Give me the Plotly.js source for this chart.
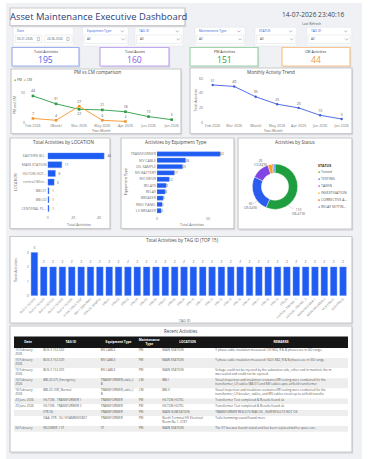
<!DOCTYPE html>
<html><head><meta charset="utf-8">
<script src="https://cdn.plot.ly/plotly-3.0.1.min.js"></script>
<style>html,body{margin:0;padding:0;background:#fff;overflow:hidden}#chart{width:370px;height:459px}</style>
</head><body><div id="chart"></div>
<script>
// ---------------- DATA ----------------
const pmcm_months = ["Feb 2026","(Blank)","Mar 2026","May 2026","Apr 2026","Jun 2026","Jan 2026"];
const pm_values = [44,31,22,21,18,10,5];
const cm_months = ["Feb 2026","(Blank)","Mar 2026","May 2026","Apr 2026"];
const cm_values = [7,4,27,4,2];
const trend_months = ["Feb 2026","Mar 2026","(Blank)","May 2026","Apr 2026","Jun 2026","Jan 2026"];
const trend_values = [51,49,35,25,20,10,5];
const locations = ["EASTERN BU...","MAIN STATION","HILTON HOT...","central (Mini...","BBI-01","BBI-02","CENTERAL PL..."];
const location_values = [44,11,6,5,1,1,1];
const equip_types = ["TRANSFORMER","MV CABLE","OIL SAMPLE","MV BATTERY","MV SWGR","RELAYS","RELAY","BREAKER","RMU PANEL","LV BREAKER"];
const equip_values = [62,28,25,17,12,9,8,6,5,4];
const status_labels = ["Tested","TESTING","TAKEN","INVESTIGATION","CORRECTIVE A...","RELAY SETTIN..."];
const status_values = [110,50,25,6,2,2];
const tag_ids = ["BUS-3 152-003","BUS-3 152-029","BUS-3 152-032","BUS-3 152-005","BUS-3 152-006","4-16K CABLE TEST","BBI-1 20KV RMU","ETR OIL SAMPLE","ETR-01","ETR-02","ETR-03","ETR-04","ETR-05","ETR-06","ETR-07","ETR-08","ETR-09","ETR-10","ETR-11","ETR-12","ETR-13","ETR-14","ETR-15","ETR-16","ETR-17","ETR-18","ETR-19","ETR-20","HILTON - TRANSF. 1","HILTON - TRANSF. 2","MAIN INCOMER-1","MAIN INCOMER-2","VCB-ETR-01","VCB-ETR-02"];
const tag_values = [3,2,2,2,2,2,2,2,2,2,2,2,2,2,2,2,2,2,2,2,2,2,2,2,2,2,2,2,2,2,2,2,2,2];
const kpi_labels = ["Total Activities","Total Assets","PM Activities","CM Activities"];
const kpi_values = [195,160,151,44];
const filter_labels = ["Equipment Type","TAG ID","Maintenance Type","STATUS","TAG ID"];
const date_from = "03-01-2026", date_to = "24-06-2026";
const table_headers = ["Date","TAG ID","Equipment Type","Maintenance<br>Type","LOCATION","REMARKS"];
const col_date = ["15 February<br>2026","15 February<br>2026","15 February<br>2026","16 February<br>2026","16 February<br>2026","23 June 2026","23 June 2026","","","04 February"];
const col_tag = ["BUS-3 152-032","BUS-3 152-029","BUS-3 152-005","BBI-20-07I_Emergency","BBI-20-16R_Normal","HILTON - TRANSFORMER 1","HILTON - TRANSFORMER 2","ETR-06","DAA- ETR- 16C KFIAMMS00867","INCOMER-1 VT"];
const col_equip = ["MV CABLE","MV CABLE","MV CABLE","TRANSFORMER,cable,C<br>B","TRANSFORMER,cable,C<br>B","TRANSFORMER","TRANSFORMER","TRANSFORMER","TRANSFORMER","VT"];
const col_maint = ["PM","PM","PM","CM","CM","PM","PM","PM","PM","PM"];
const col_loc = ["MAIN STATION","MAIN STATION","MAIN STATION","BBI-I","BBI-II","HILTON HOTEL","HILTON HOTEL","MAIN SUBSTATION","North Terminal HV Electrical<br>Room No 1- 2187","MAIN STATION"];
const col_remarks = [
 "Y-phase cable insulation measured 120 MΩ, R & B phases are in GO range.",
 "Y-phase cable insulation measured 164.5 MΩ, R & B phases are in GO range.",
 "Voltage could not be injected by the substation side, other end in manhole the m<br>was sealed and could not be opened.",
 "Visual inspection and insulation resistance(IR) testing were conducted for the<br>transformer, LV cables (BB-01) and MV cables upto airfield transformer",
 "Visual inspection and insulation resistance(IR) testing were conducted for the<br>transformer, LV breaker, cables, and MV cables circuit up to airfield transfor",
 "Transformer Test completed & Results found ok",
 "Transformer Test completed & Results found ok",
 "TRANSFORMER RESULTS WAS OK , NGR RESULTS NOT OK",
 "Trafo humming sound found more",
 "The VT has was found rusted and has been replaced with a spare one."
];

// ---------------- HELPERS ----------------
const W=370,H=459;
const X=x=>x/W, Y=y=>1-y/H;
const FONT='"Open Sans", "Segoe UI", sans-serif';
const BLUE='#1f5cf2';
const GREEN='#2a9d45', ORANGE='#f5952a';
const shapes=[], ann=[];
function rect(x0,y0,x1,y1,fill,line,lw){shapes.push({type:'rect',xref:'paper',yref:'paper',x0:X(x0),x1:X(x1),y0:Y(y1),y1:Y(y0),fillcolor:fill,line:{color:line||'rgba(0,0,0,0)',width:lw||0},layer:'below'});}
function panel(x0,y0,x1,y1,border){rect(x0+1,y0+1.5,x1+1.2,y1+1.8,'rgba(0,0,0,0.10)');rect(x0,y0,x1,y1,'#ffffff',border||'#c9c9c9',1.2);}
function txt(t,x,y,size,color,o){o=o||{};ann.push({text:t,x:X(x),y:Y(y),xref:'paper',yref:'paper',showarrow:false,borderpad:0,
  font:{family:FONT,size:size,color:color},xanchor:o.xa||'center',yanchor:o.ya||'middle',textangle:o.rot||0,align:o.align||'center'});}
function chevron(x,y){shapes.push({type:'path',xref:'paper',yref:'paper',path:`M ${X(x-1.6)} ${Y(y-0.8)} L ${X(x)} ${Y(y+0.8)} L ${X(x+1.6)} ${Y(y-0.8)}`,line:{color:'#777',width:0.5}});}

// background
rect(6,3,362,459,'#eff1f5');
// header title box
panel(10,8,185,25.5,'#c9c9c9');
txt('Asset Maintenance Executive Dashboard',98,16.8,9.4,'#2c3d78');
txt('14-07-2026 23:40:16',312.5,15,6.6,'#454545');
txt('Last Refresh',311,23,3.3,'#555');

// filters
rect(13.3,27.3,73.3,46,'#ffffff','#e1e3e8',0.5);
txt('Date',15.5,30.7,3.2,'#3b5bd9',{xa:'left'});
rect(15.3,35,42,42.7,'#ffffff','#d5d7dc',0.4);
rect(44.7,35,72,42.7,'#ffffff','#d5d7dc',0.4);
txt(date_from,16.3,38.9,3,'#555',{xa:'left'});
txt(date_to,45.7,38.9,3,'#555',{xa:'left'});
rect(37.3,37.3,39.6,40.6,'#ffffff','#777',0.4);
rect(66.8,37.3,69.1,40.6,'#ffffff','#777',0.4);
const filter_boxes=[[82.7,128.3],[135,183.3],[195,245],[255,296.7],[306.7,351.7]];
filter_boxes.forEach((b,i)=>{
  rect(b[0],27.3,b[1],46,'#ffffff','#e1e3e8',0.5);
  txt(filter_labels[i],b[0]+3,31.5,3.2,'#3b5bd9',{xa:'left'});
  chevron(b[1]-6,31.3);
  rect(b[0]+1.5,35,b[1]-1.5,43.5,'#ffffff','#d5d7dc',0.4);
  txt('All',b[0]+3.5,39.3,3.2,'#555',{xa:'left'});
  chevron(b[1]-5,39.3);
});

// KPI cards
const kpi_boxes=[[12,79],[100,169],[190,258],[282,350]];
const kpi_border=['#9fb0ef','#c1a8ef','#9fd6a9','#f7c58e'];
const kpi_color=['#4664e6','#8b57e6','#2f9a48','#f2993a'];
kpi_boxes.forEach((b,i)=>{
  panel(b[0],47.5,b[1],66,kpi_border[i]);
  txt(kpi_labels[i],(b[0]+b[1])/2,51.8,3.6,'#333');
  txt(String(kpi_values[i]),(b[0]+b[1])/2,59.8,8.6,kpi_color[i]);
});

// panels
panel(11,69,181,133.5);
panel(190,68,352,133.5);
panel(10,138,110,228.5);
panel(121,138,234,228.5);
panel(238,138,352,229);
panel(10,236.5,352,323);
panel(10,326,352,452);

// panel titles
txt('PM vs CM comparison',98,72.4,4.6,'#444');
txt('Monthly Activity Trend',271,71.7,4.6,'#444');
txt('Total Activities by LOCATION',63,142.3,4.6,'#444');
txt('Activities by Equipment Type',176,142.3,4.6,'#444');
txt('Activities by Status',295,142.3,4.6,'#444');
txt('Total Activities by TAG ID (TOP 15)',182,240,4.6,'#444');
txt('Recent Activities',180,330.8,4.4,'#444');

// axis titles
txt('PM and CM',15,105,3.4,'#666',{rot:-90});
txt('Year-Month',101,130.7,3.4,'#666');
txt('Total Activities',194.5,100,3.4,'#666',{rot:-90});
txt('Year-Month',273,130.7,3.4,'#666');
txt('LOCATION',15,182,3.6,'#666',{rot:-90});
txt('Total Activities',79,224.3,3.6,'#666');
txt('Equipment Type',125.3,182,3.6,'#666',{rot:-90});
txt('Total Activities',192,224.3,3.6,'#666');
txt('Total Activities',15,270,3.6,'#666',{rot:-90});
txt('TAG ID',185,320.7,3.6,'#666');

// PM/CM legend
txt('<span style="color:'+GREEN+'">●</span> PM  <span style="color:'+ORANGE+'">●</span> CM',13.3,79.3,3.4,'#555',{xa:'left'});

// status legend
const status_colors=['#1f9e3f','#2a5cf0','#8145e6','#f5a21c','#e4431d','#3aa0ee'];
txt('<b>STATUS</b>',316.5,165.7,3.6,'#333',{xa:'left'});
status_labels.forEach((s,i)=>txt('<span style="color:'+status_colors[i]+'">●</span> '+s,316.5,171.9+i*7,3.5,'#555',{xa:'left'}));
// donut labels
const tot=status_values.reduce((a,b)=>a+b,0);
const pct=v=>(v/tot*100).toFixed(2)+'%';
txt(status_values[0]+'<br>('+pct(status_values[0])+')',298,211.5,3.3,'#555');
txt(status_values[1]+'<br>('+pct(status_values[1])+')',250.5,205.7,3.3,'#555');
txt(status_values[2]+'<br>('+pct(status_values[2])+')',260.5,162.2,3.3,'#555');
shapes.push({type:'line',xref:'paper',yref:'paper',x0:X(288),y0:Y(205),x1:X(293),y1:Y(209),line:{color:'#aaa',width:0.4}});
shapes.push({type:'line',xref:'paper',yref:'paper',x0:X(257),y0:Y(201),x1:X(253),y1:Y(204),line:{color:'#aaa',width:0.4}});
shapes.push({type:'line',xref:'paper',yref:'paper',x0:X(264),y0:Y(168),x1:X(262),y1:Y(165),line:{color:'#aaa',width:0.4}});

// ---------------- TRACES ----------------
const tf={family:FONT,size:3.6,color:'#777'};
const traces=[];
const pmPos=pm_values.map((v,i)=>pmcm_months[i]==='Mar 2026'?'bottom center':'top center');
traces.push({type:'scatter',mode:'lines+markers+text',x:pmcm_months,y:pm_values,text:pm_values.map(String),textposition:pmPos,
  textfont:{family:FONT,size:3.5,color:'#555'},line:{color:GREEN,width:0.9},marker:{size:2.6,symbol:'square',color:GREEN},xaxis:'x',yaxis:'y',cliponaxis:false,hoverinfo:'none'});
traces.push({type:'scatter',mode:'lines+markers+text',x:cm_months,y:cm_values,text:cm_values.map(String),textposition:'top center',
  textfont:{family:FONT,size:3.5,color:'#555'},line:{color:ORANGE,width:0.9},marker:{size:2.6,symbol:'square',color:ORANGE},xaxis:'x',yaxis:'y',cliponaxis:false,hoverinfo:'none'});
traces.push({type:'scatter',mode:'lines+markers+text',x:trend_months,y:trend_values,text:trend_values.map(String),textposition:'top center',
  textfont:{family:FONT,size:3.5,color:'#555'},line:{color:'#3f5fe0',width:0.9},marker:{size:2.4,color:'#3f5fe0'},xaxis:'x2',yaxis:'y2',cliponaxis:false,hoverinfo:'none'});
traces.push({type:'bar',orientation:'h',y:locations,x:location_values,text:location_values.map(String),textposition:'outside',
  textfont:{family:FONT,size:3.4,color:'#555'},marker:{color:BLUE,line:{color:'#6f93f7',width:0.4}},xaxis:'x3',yaxis:'y3',cliponaxis:false,hoverinfo:'none'});
traces.push({type:'bar',orientation:'h',y:equip_types,x:equip_values,text:equip_values.map(String),textposition:'outside',
  textfont:{family:FONT,size:3.4,color:'#555'},marker:{color:BLUE,line:{color:'#6f93f7',width:0.4}},xaxis:'x4',yaxis:'y4',cliponaxis:false,hoverinfo:'none'});
traces.push({type:'pie',labels:status_labels,values:status_values,hole:0.6,sort:false,direction:'clockwise',rotation:0,textinfo:'none',
  marker:{colors:status_colors,line:{color:'#fff',width:0.4}},domain:{x:[X(252.3),X(297.7)],y:[Y(209.4),Y(164)]},hoverinfo:'none',showlegend:false});
traces.push({type:'bar',x:tag_ids,y:tag_values,text:tag_values.map(String),textposition:'outside',
  textfont:{family:FONT,size:3.2,color:'#666'},marker:{color:BLUE,line:{color:'#6f93f7',width:0.4}},xaxis:'x5',yaxis:'y5',cliponaxis:false,hoverinfo:'none'});

// table on a pixel axis (x6/y6)
const col_left=[14,42,99.5,137.5,161,214], col_right=348;
const columns=[col_date,col_tag,col_equip,col_maint,col_loc,col_remarks];
const nlines=s=>s.split('<br>').length;
const rowLines=col_date.map((_,r)=>Math.max(...columns.map(c=>nlines(c[r]))));
const LINE=4.3, PAD=1.5, HEAD_TOP=336.5, HEAD_H=11.5;
let yCur=HEAD_TOP+HEAD_H; const rowTop=[], rowH=[];
rowLines.forEach(n=>{rowTop.push(yCur);const h=n*LINE+PAD;rowH.push(h);yCur+=h;});
traces.push({type:'bar',orientation:'h',y:[HEAD_TOP+HEAD_H/2],x:[col_right-col_left[0]],base:[col_left[0]],width:[HEAD_H],
  marker:{color:'#161616'},xaxis:'x6',yaxis:'y6',hoverinfo:'none'});
traces.push({type:'bar',orientation:'h',y:rowTop.map((t,i)=>t+rowH[i]/2),x:rowTop.map(()=>col_right-col_left[0]),base:rowTop.map(()=>col_left[0]),width:rowH,
  marker:{color:rowTop.map((_,i)=>i%2? '#eeeeee':'#ffffff')},xaxis:'x6',yaxis:'y6',hoverinfo:'none'});
const colCenters=col_left.map((l,i)=>(l+(i<5?col_left[i+1]:col_right))/2);
traces.push({type:'scatter',mode:'text',x:colCenters,y:colCenters.map(()=>HEAD_TOP+HEAD_H/2),text:table_headers.map(h=>'<b>'+h+'</b>'),
  textposition:'middle center',textfont:{family:FONT,size:3.2,color:'#fff'},xaxis:'x6',yaxis:'y6',hoverinfo:'none',cliponaxis:false});
columns.forEach((col,ci)=>{
  traces.push({type:'scatter',mode:'text',x:col.map(()=>col_left[ci]+1.2),y:rowTop.map(t=>t+0.6),text:col,textposition:'bottom right',
    textfont:{family:FONT,size:3.1,color:'#5a5a5a'},xaxis:'x6',yaxis:'y6',hoverinfo:'none',cliponaxis:false});
});

const ax=(o)=>Object.assign({showgrid:false,zeroline:false,showline:false,ticks:'',tickfont:tf,fixedrange:true},o);
const layout={
  width:W,height:H,margin:{l:0,r:0,t:0,b:0},paper_bgcolor:'#ffffff',plot_bgcolor:'rgba(0,0,0,0)',
  showlegend:false,font:{family:FONT},bargap:0.3,
  xaxis:ax({domain:[X(26),X(176.3)],anchor:'y',type:'category',categoryorder:'array',categoryarray:pmcm_months,range:[-0.3,6.2]}),
  yaxis:ax({domain:[Y(122.7),Y(86.2)],anchor:'x',range:[0,60],tickvals:[0,50]}),
  xaxis2:ax({domain:[X(204.1),X(348.1)],anchor:'y2',type:'category',categoryorder:'array',categoryarray:trend_months,range:[-0.4,6.3]}),
  yaxis2:ax({domain:[Y(122.7),Y(74.6)],anchor:'x2',range:[0,65],tickvals:[0,20,40,60]}),
  xaxis3:ax({domain:[X(47.7),X(105.4)],anchor:'y3',range:[0,45],tickvals:[0,20,40],ticklabelstandoff:2}),
  yaxis3:ax({domain:[Y(212.7),Y(151.6)],anchor:'x3',type:'category',autorange:'reversed'}),
  xaxis4:ax({domain:[X(157),X(223.3)],anchor:'y4',range:[0,65],tickvals:[0,50],ticklabelstandoff:2}),
  yaxis4:ax({domain:[Y(213.85),Y(150.85)],anchor:'x4',type:'category',autorange:'reversed'}),
  xaxis5:ax({domain:[X(29.7),X(347.7)],anchor:'y5',type:'category',tickangle:-45,tickfont:{family:FONT,size:3,color:'#777'}}),
  yaxis5:ax({domain:[Y(295.7),Y(245.3)],anchor:'x5',range:[0,3.5],tickvals:[0,1,2,3]}),
  xaxis6:{domain:[0,1],anchor:'y6',range:[0,W],visible:false,fixedrange:true},
  yaxis6:{domain:[0,1],anchor:'x6',range:[H,0],visible:false,fixedrange:true},
  shapes:shapes,annotations:ann
};
Plotly.newPlot('chart',traces,layout,{staticPlot:true,displayModeBar:false});
</script></body></html>
